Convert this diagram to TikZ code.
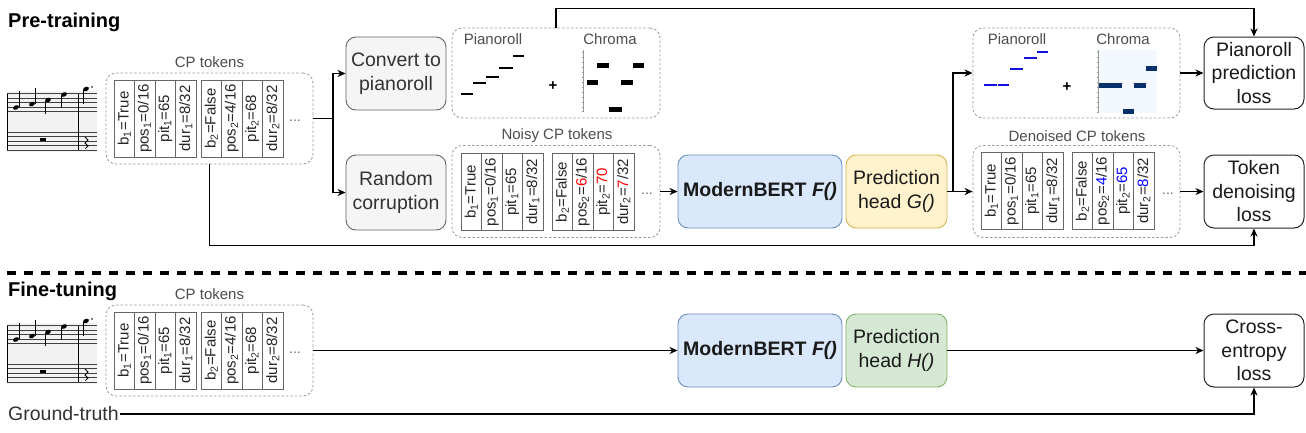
\documentclass[tikz,border=0pt]{standalone}
\usepackage{fontspec}
\setmainfont{Liberation Sans}
\usetikzlibrary{arrows.meta,calc}
\definecolor{txt}{HTML}{1A1A1A}
\definecolor{lblgray}{HTML}{4D4D4D}
\definecolor{boxgray}{HTML}{F5F5F5}
\definecolor{boxedge}{HTML}{666666}
\definecolor{mbfill}{HTML}{DAE8FC}
\definecolor{mbedge}{HTML}{6C8EBF}
\definecolor{gfill}{HTML}{FFF2CC}
\definecolor{gedge}{HTML}{D6B656}
\definecolor{hfill}{HTML}{D5E8D4}
\definecolor{hedge}{HTML}{82B366}
\definecolor{dashgray}{HTML}{9A9A9A}
\definecolor{noisered}{HTML}{FF0000}
\definecolor{fixblue}{HTML}{0000FF}
\definecolor{rollblue}{HTML}{1010E0}
\definecolor{chromabg}{HTML}{F3F8FE}
\definecolor{chromabar}{HTML}{08306B}
\newcommand\lblfont{\fontsize{19.5}{23.5}\selectfont}
\newcommand\smallfont{\fontsize{15}{17}\selectfont}
\newcommand\tokgrp[7]{%
  \node[cell] (#1b) at ({#2+10.25},#3) {#4};
  \node[cell] (#1p) at ({#2+30.75},#3) {#5};
  \node[cell] (#1i) at ({#2+51.25},#3) {#6};
  \node[cell] (#1d) at ({#2+71.75},#3) {#7};
}
\newcommand\grpone[3]{\tokgrp{#1}{#2}{#3}{b\textsubscript{1}=True}{pos\textsubscript{1}=0/16}{pit\textsubscript{1}=65}{dur\textsubscript{1}=8/32}}
\newcommand\grptwo[3]{\tokgrp{#1}{#2}{#3}{b\textsubscript{2}=False}{pos\textsubscript{2}=4/16}{pit\textsubscript{2}=68}{dur\textsubscript{2}=8/32}}
\newcommand\scorepic[1]{%
\begin{scope}[shift={(0,#1)}]
  \fill[black!5] (7,91) rectangle (97,152);
  \foreach \yy in {93.5,98,102.5,107,111.5,132,136.5,141,145.5,150}
    \draw[black!75,line width=0.6pt] (7,\yy) -- (97,\yy);
  \draw[line width=0.9pt] (7,93.5) -- (7,150);
  \draw[line width=0.9pt] (78,93.5) -- (78,150);
  \foreach \nx/\ny in {16/107.5,32/104,48/100,64/94.5,86/89}
    \fill[rotate around={25:(\nx,\ny)}] (\nx,\ny) ellipse [x radius=3.1pt, y radius=2.1pt];
  \draw[line width=0.7pt] (19,107) -- (19,91);
  \draw[line width=0.7pt] (35,103.5) -- (35,88);
  \draw[line width=0.7pt] (45.3,100.5) -- (45.3,114);
  \draw[line width=0.7pt] (61.3,95) -- (61.3,108);
  \draw[line width=0.7pt] (83.3,89.5) -- (83.3,104);
  \fill (92,87) circle (0.8pt);
  \fill (40,138.2) rectangle (46,140.6);
  \draw[line width=0.9pt] (85,137) -- (88,140) -- (85,143) -- (88,146) -- (85.5,148.5);
\end{scope}}
\begin{document}
\begin{tikzpicture}[x=1pt,y=-1pt,
  ln/.style={line width=1.5pt, draw=black},
  arr/.style={ln, -{Stealth[length=8pt,width=7pt,inset=2.5pt]}},
  dbox/.style={draw=dashgray, dash pattern=on 2.5pt off 2pt, rounded corners=10pt, line width=0.8pt},
  gbox/.style={draw=boxedge, fill=boxgray, rounded corners=10pt, line width=0.9pt, align=center, font=\lblfont, text=black!80, inner sep=2pt},
  lossbox/.style={draw=black!85, fill=white, rounded corners=10pt, line width=1pt, minimum width=100, minimum height=73, align=center, font=\lblfont, text=txt, inner sep=2pt},
  cell/.style={draw=boxedge, line width=0.6pt, minimum width=77, minimum height=20.5, inner sep=0pt, rotate=90, font=\fontsize{15}{17}\selectfont, text=black!85},
  lbl/.style={font=\smallfont, text=lblgray},
  dots/.style={font=\fontsize{14}{16}\selectfont, text=black!60},
  sect/.style={font=\fontsize{20}{24}\selectfont\bfseries, text=black, anchor=west, inner sep=0pt}]
\useasboundingbox (0,0) rectangle (1306,432);
\fill[white] (0,0) rectangle (1306,432);

% section titles
\node[sect] (pretitle) at (8,22) {Pre-training};
\node[sect] (finetitle) at (8,291) {Fine-tuning};

% separator
\draw[line width=4pt, dash pattern=on 9pt off 8pt] (7,273) -- (1306,273);

% scores
\scorepic{0}
\scorepic{232}

% ===== Pre-training =====
\node[dbox, minimum width=207, minimum height=91] (cp1) at (209.5,118.5) {};
\node[lbl] (cp1lbl) at (209.5,62) {CP tokens};
\grpone{ca}{114}{118.5}
\grptwo{cb}{201}{118.5}
\node[dots] (cp1dots) at (295,121) {...};

\node[gbox, minimum width=100, minimum height=73] (conv) at (396,73.5) {Convert to\\pianoroll};
\node[gbox, minimum width=100, minimum height=75] (rand) at (396,192.5) {Random\\corruption};

% pianoroll / chroma (input)
\node[dbox, minimum width=208, minimum height=90] (pr1) at (556,73) {};
\node[lbl] (pr1a) at (493,39) {Pianoroll};
\node[lbl] (pr1b) at (610,39) {Chroma};
\foreach \xa/\xb/\yy in {461/473/94,473/486/83,486/499/77,499/513/68,513/524/56}
  \draw[line width=2pt] (\xa,\yy) -- (\xb,\yy);
\node[font=\fontsize{15}{17}\selectfont\bfseries] (plus1) at (553,86) {+};
\draw[black!40,line width=0.5pt] (583,50) -- (583,112);
\foreach \yy in {52,57,62,67,72,77,82,87,92,97,102,107,111}
  \draw[black!40,line width=0.4pt] (581.5,\yy) -- (583,\yy);
\foreach \xa/\xb/\yy in {597/609/63,633/644/63,587/598/80,621/633/80,609/622/107}
  \fill (\xa,\yy) rectangle (\xb,{\yy+5});

% noisy tokens
\node[dbox, minimum width=208, minimum height=92] (noisy) at (556,191.5) {};
\node[lbl] (noisylbl) at (557,136) {Noisy CP tokens};
\grpone{na}{461}{192}
\tokgrp{nb}{552}{192}{b\textsubscript{2}=False}{pos\textsubscript{2}=\textcolor{noisered}{6}/16}{pit\textsubscript{2}=\textcolor{noisered}{70}}{dur\textsubscript{2}=\textcolor{noisered}{7}/32}
\node[dots] (noisydots) at (647,194) {...};

% model
\node[draw=mbedge, fill=mbfill, rounded corners=10pt, line width=0.9pt, minimum width=164, minimum height=73, font=\lblfont, text=txt] (mb1) at (760,191.5) {\textbf{ModernBERT \textit{F()}}};
\node[draw=gedge, fill=gfill, rounded corners=10pt, line width=0.9pt, minimum width=101, minimum height=73, align=center, font=\lblfont, text=txt, inner sep=2pt] (hg) at (896.5,191.5) {Prediction\\head \textit{G()}};

% pianoroll / chroma (output)
\node[dbox, minimum width=207, minimum height=90] (pr2) at (1076.5,73) {};
\node[lbl] (pr2a) at (1017,39) {Pianoroll};
\node[lbl] (pr2b) at (1123,39) {Chroma};
\foreach \xa/\xb/\yy in {984/996.5/85,997.5/1009/85,1010/1023/69,1024/1037/58,1037/1048/52}
  \draw[rollblue,line width=2pt] (\xa,\yy) -- (\xb,\yy);
\node[font=\fontsize{15}{17}\selectfont\bfseries] (plus2) at (1067,87) {+};
\fill[chromabg] (1098,50) rectangle (1157,113);
\draw[black!40,line width=0.5pt] (1098,50) -- (1098,113);
\foreach \yy in {52,57,62,67,72,77,82,87,92,97,102,107,112}
  \draw[black!40,line width=0.4pt] (1096.5,\yy) -- (1098,\yy);
\foreach \xa/\xb/\yy in {1099/1122/82.5,1134/1146/82.5,1146/1157/66,1123/1134/108.5}
  \fill[chromabar] (\xa,\yy) rectangle (\xb,{\yy+5});

% denoised tokens
\node[dbox, minimum width=207, minimum height=92] (den) at (1076.5,191.5) {};
\node[lbl] (denlbl) at (1077,136) {Denoised CP tokens};
\grpone{da}{981}{191}
\tokgrp{db}{1072}{191}{b\textsubscript{2}=False}{pos\textsubscript{2}=\textcolor{fixblue}{4}/16}{pit\textsubscript{2}=\textcolor{fixblue}{65}}{dur\textsubscript{2}=\textcolor{fixblue}{8}/32}
\node[dots] (dendots) at (1168,194) {...};

% losses
\node[lossbox, minimum height=72] (prloss) at (1254,73) {Pianoroll\\prediction\\loss};
\node[lossbox] (tokloss) at (1254,191.5) {Token\\denoising\\loss};

% connectors (pre-training)
\draw[ln] (cp1.east) -- (333,118.5) coordinate (br1);
\draw[arr] (br1) |- (conv.west);
\draw[arr] (br1) |- (rand.west);
\draw[arr] (noisy.east) -- (mb1.west);
\draw[ln] (hg.east) -- (953,191.5) coordinate (br2);
\draw[arr] (br2) |- (pr2.west);
\draw[arr] (br2) |- (den.west);
\draw[arr] (pr2.east) -- (prloss.west);
\draw[arr] (den.east) -- (tokloss.west);
\draw[arr] (pr1.north) -- ++(0,-19) -| (prloss.north);
\draw[arr] (cp1.south) |- ($(tokloss.south)+(0,17)$) -- (tokloss.south);

% ===== Fine-tuning =====
\node[dbox, minimum width=207, minimum height=91] (cp2) at (209.5,350.5) {};
\node[lbl] (cp2lbl) at (209.5,294) {CP tokens};
\grpone{fa}{114}{350.5}
\grptwo{fb}{201}{350.5}
\node[dots] (cp2dots) at (295,353) {...};

\node[draw=mbedge, fill=mbfill, rounded corners=10pt, line width=0.9pt, minimum width=164, minimum height=73, font=\lblfont, text=txt] (mb2) at (760,350.5) {\textbf{ModernBERT \textit{F()}}};
\node[draw=hedge, fill=hfill, rounded corners=10pt, line width=0.9pt, minimum width=101, minimum height=73, align=center, font=\lblfont, text=txt, inner sep=2pt] (hh) at (896.5,350.5) {Prediction\\head \textit{H()}};
\node[lossbox] (ce) at (1254,350.5) {Cross-\\entropy\\loss};

\node[font=\lblfont, text=black!80, anchor=west, inner sep=1pt] (gt) at (7,414) {Ground-truth};

\draw[arr] (cp2.east) -- (mb2.west);
\draw[arr] (hh.east) -- (ce.west);
\draw[arr] (gt.east) -| (ce.south);
\end{tikzpicture}
\end{document}
